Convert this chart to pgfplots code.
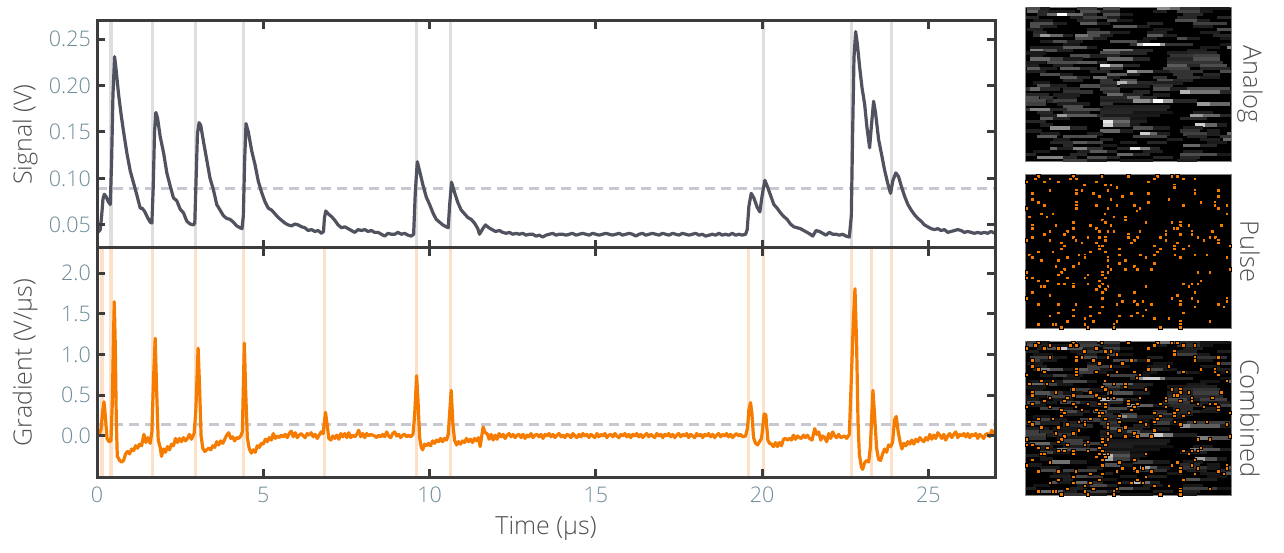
\documentclass[border=0pt]{standalone}
\usepackage{fontspec}
\setmainfont{Open Sans Light}
\usepackage{pgfplots}
\usepackage{pgfplotstable}
\pgfplotsset{compat=1.18}

\definecolor{frame}{HTML}{3C3C3C}
\definecolor{ticklab}{HTML}{6F8C99}
\definecolor{lab}{HTML}{505050}
\definecolor{trace}{HTML}{50525F}
\definecolor{pulse}{HTML}{F57C00}
\definecolor{vgray}{HTML}{DEDEDE}
\definecolor{vorange}{HTML}{FDE0C8}
\definecolor{thr}{HTML}{C8C8D0}

\pgfplotsset{
    trace axis/.style={
        scale only axis, width=898pt, xmin=0, xmax=27,
        axis on top, axis line style={frame,line width=3pt},
        tick style={frame,line width=3pt}, major tick length=8pt,
        tick align=inside, xtick={0,5,...,25},
        every tick label/.append style={font=\fontsize{21.5}{24}\selectfont,text=ticklab},
        /pgf/number format/assume math mode=true,
        yticklabel style={inner sep=0pt,xshift=-6pt,/pgf/number format/fixed,/pgf/number format/fixed zerofill},
        xticklabel style={inner sep=0pt,yshift=-10pt},
        every axis y label/.style={at={(axis description cs:-0.080,0.5)},rotate=90,anchor=center,font=\fontsize{25}{28}\selectfont,text=lab},
        every axis x label/.style={at={(axis description cs:0.5,-0.223)},anchor=center,font=\fontsize{25}{28}\selectfont,text=lab},
    },
    heat axis/.style={
        scale only axis, width=205.6pt, xmin=17, xmax=634, ymin=14, ymax=474, y dir=reverse,
        axis background/.style={fill=black}, axis line style={gray,line width=0.8pt},
        ticks=none, colormap/blackwhite,
        every axis y label/.style={at={(axis description cs:1.091,0.5)},rotate=-90,anchor=center,font=\fontsize{25.5}{28}\selectfont,text=lab},
    },
    vline/.style={line width=3.2pt,forget plot},
    streak/.style={quiver={u=\thisrow{u},v=0,colored=mapped color,every arrow/.append style={line width=3.4pt}},point meta=\thisrow{m}},
    dots/.style={only marks,mark=square*,mark size=1.7pt,mark options={fill=pulse,draw=none}},
}

\pgfplotstableread{
t v
0.00 .042
0.05 .043
0.10 .045
0.14 .060
0.18 .078
0.22 .083
0.28 .080
0.34 .075
0.40 .072
0.44 .120
0.48 .190
0.53 .231
0.58 .215
0.65 .190
0.72 .170
0.80 .150
0.90 .127
1.00 .108
1.10 .095
1.20 .082
1.30 .068
1.36 .068
1.44 .064
1.52 .058
1.60 .053
1.65 .052
1.69 .090
1.73 .150
1.77 .171
1.82 .165
1.90 .145
2.00 .128
2.10 .106
2.20 .092
2.30 .079
2.40 .076
2.50 .067
2.60 .063
2.70 .054
2.80 .051
2.90 .050
2.94 .052
2.98 .100
3.02 .148
3.07 .160
3.12 .157
3.20 .140
3.30 .120
3.40 .100
3.50 .088
3.60 .072
3.70 .066
3.80 .060
3.90 .057
4.00 .056
4.10 .053
4.20 .049
4.30 .047
4.36 .046
4.40 .060
4.44 .120
4.48 .159
4.55 .150
4.65 .130
4.75 .115
4.85 .097
4.95 .085
5.05 .075
5.15 .068
5.25 .066
5.35 .062
5.45 .058
5.55 .055
5.65 .052
5.75 .050
5.85 .049
5.95 .051
6.05 .050
6.15 .048
6.25 .047
6.35 .044
6.45 .045
6.55 .043
6.65 .044
6.75 .041
6.81 .043
6.84 .058
6.88 .065
6.95 .062
7.05 .059
7.15 .055
7.25 .050
7.35 .047
7.45 .048
7.55 .046
7.65 .044
7.75 .042
7.85 .045
7.95 .044
8.05 .045
8.15 .043
8.25 .044
8.35 .042
8.45 .042
8.55 .040
8.65 .038
8.75 .041
8.85 .040
8.95 .040
9.05 .042
9.15 .040
9.25 .041
9.35 .039
9.45 .038
9.52 .040
9.57 .085
9.63 .118
9.70 .108
9.80 .093
9.90 .080
10.00 .072
10.10 .063
10.20 .056
10.30 .053
10.40 .050
10.50 .048
10.56 .047
10.60 .070
10.66 .096
10.75 .085
10.85 .074
10.95 .066
11.05 .062
11.15 .058
11.25 .056
11.35 .052
11.45 .046
11.50 .040
11.60 .046
11.68 .050
11.78 .047
11.88 .045
11.98 .043
12.10 .044
12.20 .042
12.30 .041
12.40 .042
12.50 .040
12.60 .041
12.70 .040
12.80 .041
12.90 .039
13.00 .040
13.10 .040
13.20 .038
13.30 .039
13.40 .037
13.50 .039
13.60 .040
13.70 .041
13.80 .039
13.90 .040
14.00 .040
14.10 .039
14.20 .040
14.30 .041
14.40 .039
14.50 .040
14.60 .041
14.70 .040
14.80 .039
14.90 .041
15.00 .040
15.10 .039
15.20 .040
15.30 .041
15.40 .040
15.50 .039
15.60 .040
15.70 .041
15.80 .039
15.90 .040
16.00 .041
16.10 .040
16.20 .038
16.30 .040
16.40 .041
16.50 .039
16.60 .040
16.70 .041
16.80 .040
16.90 .039
17.00 .041
17.10 .040
17.20 .039
17.30 .041
17.40 .040
17.50 .039
17.60 .041
17.70 .040
17.80 .039
17.90 .040
18.00 .041
18.10 .039
18.20 .040
18.30 .038
18.40 .039
18.50 .040
18.60 .039
18.70 .041
18.80 .039
18.90 .040
19.00 .039
19.10 .041
19.20 .039
19.30 .040
19.40 .039
19.50 .040
19.55 .045
19.60 .070
19.67 .084
19.75 .079
19.85 .069
19.93 .064
20.00 .082
20.08 .098
20.15 .092
20.25 .082
20.35 .072
20.45 .068
20.55 .063
20.65 .059
20.75 .056
20.85 .051
20.95 .048
21.05 .047
21.15 .046
21.25 .044
21.35 .042
21.45 .040
21.52 .038
21.62 .044
21.72 .043
21.82 .041
21.92 .039
22.02 .042
22.12 .040
22.22 .040
22.32 .039
22.42 .040
22.52 .038
22.62 .037
22.68 .060
22.72 .150
22.76 .230
22.81 .258
22.86 .245
22.93 .220
23.00 .198
23.08 .180
23.15 .155
23.23 .133
23.28 .155
23.35 .183
23.41 .170
23.50 .142
23.60 .124
23.68 .109
23.78 .094
23.86 .084
23.93 .098
24.02 .106
24.10 .102
24.18 .092
24.28 .081
24.38 .072
24.48 .066
24.58 .061
24.68 .057
24.78 .054
24.88 .050
24.98 .048
25.08 .046
25.18 .045
25.28 .046
25.38 .044
25.48 .045
25.58 .042
25.68 .043
25.78 .044
25.88 .045
25.98 .044
26.08 .042
26.18 .043
26.28 .042
26.38 .041
26.48 .042
26.58 .041
26.68 .042
26.78 .041
26.88 .043
27.00 .041
}\signal

\pgfplotstableread{
t v
0.00 0.00
0.06 0.01
0.12 0.08
0.17 0.30
0.21 0.42
0.26 0.20
0.30 -0.03
0.36 -0.07
0.42 -0.06
0.46 0.40
0.50 1.30
0.52 1.65
0.55 1.10
0.58 0.20
0.61 -0.25
0.68 -0.30
0.74 -0.32
0.80 -0.30
0.86 -0.22
0.92 -0.19
0.98 -0.22
1.04 -0.16
1.10 -0.18
1.16 -0.12
1.22 -0.15
1.28 -0.10
1.34 -0.12
1.41 0.02
1.47 -0.08
1.53 -0.02
1.60 -0.09
1.65 0.05
1.70 0.70
1.75 1.20
1.79 0.60
1.84 -0.05
1.90 -0.14
1.94 -0.25
2.00 -0.16
2.06 -0.20
2.12 -0.13
2.18 -0.17
2.24 -0.10
2.30 -0.12
2.36 -0.03
2.42 -0.08
2.48 -0.03
2.54 -0.07
2.60 -0.02
2.66 -0.06
2.72 -0.03
2.78 0.02
2.84 -0.04
2.92 0.03
2.97 0.30
3.04 1.08
3.08 0.65
3.13 0.00
3.18 -0.15
3.24 -0.19
3.30 -0.17
3.36 -0.15
3.42 -0.17
3.48 -0.12
3.54 -0.14
3.60 -0.07
3.66 -0.11
3.72 -0.06
3.78 -0.09
3.84 -0.04
3.90 0.01
3.96 0.04
4.02 -0.03
4.08 -0.01
4.14 -0.06
4.20 -0.02
4.26 -0.03
4.32 0.00
4.37 0.05
4.43 1.14
4.47 0.55
4.52 -0.02
4.58 -0.16
4.64 -0.21
4.70 -0.17
4.76 -0.20
4.82 -0.12
4.88 -0.14
4.94 -0.09
5.00 -0.10
5.06 -0.04
5.12 -0.07
5.18 -0.02
5.24 -0.05
5.30 0.03
5.36 -0.03
5.42 0.00
5.48 -0.02
5.54 0.01
5.60 -0.01
5.66 0.02
5.72 -0.02
5.78 0.03
5.84 0.06
5.90 -0.01
5.96 0.04
6.02 -0.02
6.08 0.01
6.14 0.03
6.20 0.00
6.26 -0.02
6.32 0.03
6.38 0.01
6.44 0.04
6.50 -0.01
6.56 0.02
6.62 -0.03
6.68 0.01
6.74 0.05
6.80 0.03
6.87 0.29
6.92 0.14
6.97 -0.03
7.03 -0.05
7.09 0.00
7.15 -0.03
7.21 0.01
7.27 -0.04
7.33 0.03
7.39 -0.01
7.45 0.03
7.51 -0.02
7.57 0.04
7.63 -0.02
7.69 0.01
7.75 -0.01
7.81 0.02
7.87 0.07
7.93 -0.01
7.99 0.03
8.05 -0.02
8.11 0.03
8.17 0.00
8.23 0.02
8.29 0.01
8.35 0.00
8.41 -0.02
8.47 0.01
8.53 -0.01
8.59 0.02
8.65 -0.01
8.71 0.05
8.77 0.00
8.83 -0.02
8.89 0.03
8.95 0.05
9.01 0.00
9.07 0.02
9.13 -0.02
9.19 0.01
9.25 0.02
9.31 -0.01
9.37 0.01
9.43 -0.01
9.50 0.02
9.55 0.25
9.61 0.74
9.65 0.45
9.70 -0.02
9.75 -0.14
9.79 -0.17
9.85 -0.10
9.91 -0.12
9.97 -0.09
10.03 -0.12
10.09 -0.06
10.15 -0.09
10.21 -0.05
10.27 -0.07
10.33 -0.03
10.39 -0.07
10.45 -0.03
10.51 -0.05
10.56 0.02
10.65 0.56
10.70 0.15
10.75 -0.05
10.81 -0.11
10.87 -0.07
10.93 -0.10
10.99 -0.06
11.05 -0.08
11.11 -0.03
11.17 -0.07
11.23 -0.04
11.29 -0.08
11.35 -0.03
11.41 -0.06
11.47 -0.02
11.52 -0.13
11.61 0.11
11.67 0.04
11.73 0.03
11.79 -0.04
11.85 0.02
11.91 -0.05
11.97 0.01
12.03 -0.04
12.09 0.03
12.15 -0.01
12.21 0.02
12.27 -0.03
12.33 0.01
12.39 0.03
12.45 -0.01
12.51 0.02
12.57 -0.02
12.63 0.01
12.69 0.02
12.75 -0.02
12.81 0.02
12.87 -0.03
12.93 0.01
12.99 -0.01
13.05 0.03
13.11 -0.02
13.17 0.01
13.23 0.02
13.29 -0.01
13.35 0.02
13.41 -0.03
13.47 0.02
13.53 0.00
13.59 0.03
13.65 -0.01
13.71 0.02
13.77 -0.02
13.83 0.01
13.89 0.03
13.95 -0.01
14.01 0.01
14.07 -0.02
14.13 0.02
14.19 0.01
14.25 -0.02
14.31 0.03
14.37 0.00
14.43 -0.02
14.49 0.02
14.55 -0.01
14.61 0.03
14.67 0.00
14.73 0.02
14.79 -0.02
14.85 0.02
14.91 0.00
14.97 -0.02
15.03 0.03
15.09 -0.01
15.15 0.02
15.21 0.00
15.27 0.03
15.33 -0.02
15.39 0.01
15.45 0.02
15.51 -0.01
15.57 0.03
15.63 0.00
15.69 -0.02
15.75 0.02
15.81 0.00
15.87 0.03
15.93 -0.01
15.99 0.02
16.05 -0.02
16.11 0.02
16.17 0.00
16.23 0.03
16.29 -0.01
16.35 0.02
16.41 -0.02
16.47 0.01
16.53 0.03
16.59 -0.01
16.65 0.02
16.71 0.00
16.77 -0.02
16.83 0.03
16.89 0.00
16.95 0.02
17.01 -0.02
17.07 0.02
17.13 0.00
17.19 0.03
17.25 -0.01
17.31 0.02
17.37 -0.02
17.43 0.01
17.49 0.03
17.55 -0.01
17.61 0.02
17.67 0.00
17.73 0.03
17.79 -0.02
17.85 0.02
17.91 0.00
17.97 -0.02
18.03 0.03
18.09 0.00
18.15 0.02
18.21 -0.02
18.27 0.02
18.33 0.00
18.39 0.03
18.45 -0.01
18.51 0.02
18.57 -0.02
18.63 0.01
18.69 0.03
18.75 -0.01
18.81 0.02
18.87 0.00
18.93 0.03
18.99 -0.01
19.05 0.02
19.11 -0.02
19.17 0.01
19.23 0.03
19.29 0.00
19.35 0.02
19.41 -0.01
19.50 0.00
19.56 0.10
19.60 0.32
19.65 0.41
19.69 0.28
19.74 -0.02
19.80 -0.09
19.86 -0.11
19.92 -0.07
19.98 -0.03
20.06 0.27
20.11 0.26
20.17 -0.05
20.22 -0.09
20.28 -0.10
20.34 -0.13
20.40 -0.08
20.46 -0.13
20.52 -0.08
20.58 -0.12
20.64 -0.04
20.70 -0.03
20.76 -0.05
20.82 -0.03
20.88 -0.05
20.94 0.01
21.00 -0.04
21.06 0.00
21.12 -0.02
21.18 -0.03
21.24 0.01
21.30 -0.02
21.36 0.01
21.42 -0.03
21.50 -0.05
21.58 0.09
21.64 0.02
21.70 0.05
21.76 -0.05
21.82 0.00
21.88 -0.02
21.94 -0.07
22.00 0.03
22.06 -0.03
22.12 0.05
22.18 0.00
22.24 -0.02
22.30 0.02
22.36 -0.02
22.42 -0.01
22.48 0.00
22.54 -0.03
22.62 0.02
22.68 0.70
22.74 1.40
22.79 1.81
22.84 1.10
22.88 0.20
22.92 -0.22
22.98 -0.38
23.02 -0.41
23.08 -0.33
23.14 -0.30
23.20 -0.32
23.25 -0.15
23.33 0.56
23.38 0.25
23.44 -0.15
23.50 -0.29
23.56 -0.30
23.62 -0.22
23.68 -0.16
23.74 -0.20
23.80 -0.11
23.86 -0.13
23.92 -0.08
23.98 0.20
24.03 0.24
24.09 0.05
24.15 -0.08
24.20 -0.16
24.26 -0.09
24.32 -0.12
24.38 -0.07
24.44 -0.10
24.50 -0.05
24.56 -0.10
24.62 -0.04
24.68 -0.07
24.74 -0.02
24.80 -0.05
24.86 -0.07
24.92 -0.02
24.98 -0.05
25.04 0.02
25.10 -0.04
25.16 0.01
25.22 -0.03
25.28 0.04
25.34 0.01
25.40 -0.03
25.46 0.02
25.52 -0.05
25.58 0.00
25.64 0.03
25.70 -0.02
25.76 0.02
25.82 0.05
25.88 -0.02
25.94 0.02
26.00 0.00
26.06 0.03
26.12 -0.01
26.18 0.03
26.24 -0.02
26.30 0.02
26.36 0.00
26.42 0.03
26.48 -0.03
26.54 0.02
26.60 0.00
26.66 -0.03
26.72 0.02
26.78 0.03
26.84 -0.01
26.90 0.07
27.00 0.01
}\gradient

% analog streaks: start, row, length, brightness (zoom-crop coordinates)
\pgfplotstableread{
x y u m
20 26 40 .3
60 26 30 .12
170 26 60 .25
250 26 50 .3
410 26 40 .55
450 26 30 .4
480 26 60 .2
540 26 90 .1
20 35 35 .4
55 35 30 .15
85 35 80 .1
180 35 60 .3
240 35 60 .15
400 35 40 .12
470 35 70 .25
540 35 40 .1
50 44 30 .15
80 44 30 .4
110 44 30 1
140 44 50 .4
190 44 40 .15
250 44 50 .3
300 44 40 .1
490 44 60 .15
17 53 40 .15
150 53 40 .12
190 53 70 .25
260 53 40 .12
470 53 60 .15
590 53 44 .15
40 62 60 .1
170 62 60 .15
260 62 30 .3
290 62 50 .1
465 62 65 .3
530 62 40 .12
30 71 70 .3
100 71 40 .12
180 71 50 .35
230 71 40 .12
380 71 50 .15
520 71 100 .25
30 79 30 .3
60 79 50 .12
280 79 70 .35
350 79 40 .12
520 79 60 .12
20 88 50 .12
200 88 40 .12
400 88 60 .1
590 88 44 .3
40 97 40 .15
200 97 70 .3
270 97 60 .12
380 97 60 .12
540 97 60 .12
40 106 20 .2
60 106 30 .6
90 106 40 .4
130 106 30 .12
165 106 40 .45
205 106 35 .3
240 106 40 .12
380 106 50 .35
430 106 40 .12
580 106 54 .15
165 115 55 .3
220 115 40 .12
370 115 40 .1
470 115 30 .3
500 115 40 .12
600 115 34 .1
60 124 40 .12
100 124 40 .3
140 124 50 .12
270 124 80 .3
350 124 40 .1
130 133 50 .1
330 133 20 .2
350 133 20 .7
370 133 50 1
420 133 15 .6
435 133 85 .2
600 133 34 .1
30 142 100 .12
130 142 70 .35
200 142 30 .12
540 142 60 .1
620 142 14 .5
30 151 40 .5
70 151 40 .3
110 151 50 .12
250 151 90 .45
340 151 60 .15
500 151 60 .12
17 159 60 .1
240 159 60 .3
300 159 80 .15
440 159 60 .12
500 159 90 .15
30 168 40 .1
150 168 60 .3
210 168 50 .12
260 168 40 .15
450 168 70 .2
520 168 80 .25
30 177 60 .4
90 177 40 .25
130 177 60 .1
260 177 80 .4
340 177 50 .15
440 177 80 .15
520 177 80 .3
17 186 60 .1
80 186 90 .3
170 186 60 .35
230 186 30 .12
440 186 60 .2
500 186 110 .2
17 195 40 .12
100 195 60 .12
240 195 30 .9
270 195 40 .5
310 195 50 .15
440 195 60 .35
500 195 40 .15
540 195 80 .3
20 204 40 .35
60 204 50 .12
120 204 60 .35
180 204 50 .15
240 204 70 .2
430 204 80 .25
540 204 90 .15
17 213 60 .12
210 213 60 .15
320 213 30 .7
350 213 50 .45
400 213 50 .12
450 213 100 .2
600 213 34 .3
60 222 60 .3
120 222 40 .12
260 222 60 .35
320 222 40 .12
460 222 60 .2
550 222 50 .15
120 231 50 .35
170 231 40 .15
220 231 40 .4
260 231 40 .12
400 231 40 .2
470 231 70 .2
540 231 60 .12
130 240 60 .15
240 240 40 .2
300 240 50 .3
410 240 50 .3
460 240 60 .15
40 248 50 .1
240 248 50 .2
290 248 30 .7
320 248 30 .4
350 248 50 .15
400 248 90 .12
50 257 40 .3
90 257 50 .12
180 257 60 .3
240 257 50 .15
300 257 90 .12
400 257 60 .2
17 266 13 .2
30 266 30 .4
60 266 60 .15
130 266 50 .15
240 266 60 .25
400 266 50 .3
450 266 50 .12
500 266 130 .3
130 275 90 .2
250 275 50 .2
340 275 50 .15
480 275 30 .7
510 275 90 .45
600 275 34 .15
17 284 70 .15
100 284 80 .12
260 284 50 .4
310 284 60 .15
400 284 50 .12
17 293 40 .3
60 293 40 .2
110 293 60 .12
240 293 80 .15
320 293 40 .4
360 293 50 .15
17 302 60 .3
80 302 20 .15
100 302 70 .25
240 302 100 .12
340 302 50 .55
390 302 10 .4
400 302 30 1
430 302 30 .6
460 302 70 .15
17 311 60 .25
110 311 100 .12
240 311 40 .2
530 311 40 .6
570 311 60 .4
130 320 60 .3
250 320 200 .12
17 328 20 .2
30 328 60 .5
90 328 50 .15
140 328 100 .3
240 328 200 .14
50 337 50 .15
130 337 80 .15
240 337 100 .15
340 337 120 .08
520 337 60 .12
60 346 50 .12
110 346 30 .6
140 346 90 .35
230 346 20 .15
250 346 170 .1
510 346 40 .6
550 346 50 .4
600 346 34 .15
60 355 40 .35
100 355 50 .12
240 355 90 .22
330 355 50 .08
480 355 80 .15
17 364 60 .15
250 364 30 .9
280 364 50 .4
330 364 50 .12
60 373 40 .12
250 373 30 .8
280 373 50 .3
330 373 30 .1
525 373 30 .8
555 373 35 .4
590 373 30 .12
90 382 60 .55
150 382 50 .15
340 382 60 .3
400 382 50 .12
490 382 60 .12
17 391 50 .12
240 391 60 .4
300 391 40 .12
480 391 60 .2
560 391 40 .12
60 400 60 .12
200 400 50 .12
360 400 30 .8
390 400 20 .4
410 400 40 .12
490 400 70 .25
560 400 40 .12
620 400 14 .4
50 408 60 .35
130 408 100 .3
340 408 100 .25
500 408 60 .15
600 408 34 .2
100 417 50 .1
240 417 40 .15
440 417 50 .12
540 417 60 .12
610 417 24 .4
90 426 70 .15
160 426 40 .35
200 426 50 .25
300 426 50 .12
380 426 60 .15
560 426 60 .1
130 435 30 .15
240 435 50 .1
490 435 50 .4
540 435 50 .15
90 444 20 .4
110 444 50 .12
160 444 40 .5
200 444 50 .2
290 444 40 .15
330 444 30 .9
360 444 30 .5
390 444 30 .15
40 453 50 .1
170 453 40 .12
210 453 50 .35
260 453 30 .15
370 453 60 .12
490 453 60 .12
17 462 30 .15
150 462 50 .15
290 462 50 .4
340 462 50 .15
480 462 110 .3
590 462 44 .1
50 471 80 .5
130 471 40 .15
200 471 60 .3
260 471 40 .15
400 471 60 .15
480 471 60 .15
130 480 70 .25
200 480 60 .1
300 480 100 .1
470 480 60 .12
}\streaks

% pulse cells, same crop coordinates
\pgfplotstableread{
x y
55 18
160 18
245 18
325 18
412 18
455 18
472 18
45 26
150 26
168 26
89 26
403 26
490 26
525 26
20 35
72 35
115 35
228 35
385 35
193 44
255 44
272 44
463 44
290 52
463 52
89 61
168 61
185 61
263 61
525 61
595 61
37 70
168 70
220 70
333 70
385 70
525 70
237 79
307 79
595 79
37 88
272 88
446 88
54 97
168 97
385 97
542 97
585 97
72 105
168 105
228 105
290 105
342 105
490 105
585 105
621 105
20 114
168 114
263 114
359 114
595 114
350 122
63 131
98 131
254 131
621 131
28 140
80 140
281 140
316 140
246 149
316 149
159 157
255 157
377 157
455 157
481 157
37 166
107 166
211 166
272 166
481 166
507 166
604 166
37 175
159 175
228 175
463 175
472 175
89 183
141 183
237 183
263 183
281 183
359 183
437 183
516 183
577 183
72 192
133 192
324 192
437 192
481 192
516 192
37 201
159 201
203 201
237 201
255 201
324 201
351 201
420 201
533 201
569 201
586 201
20 210
89 210
167 210
255 210
342 210
437 210
551 210
595 210
124 218
185 218
228 218
333 218
472 218
595 218
133 227
238 227
246 227
403 227
463 227
507 227
630 227
124 236
238 236
298 236
420 236
463 236
490 236
54 245
98 245
211 245
255 245
411 245
28 254
176 254
194 254
298 254
360 254
403 254
464 254
525 254
560 254
37 262
141 262
194 262
263 262
377 262
481 262
621 262
63 271
115 271
263 271
316 271
176 280
298 280
403 280
107 289
159 289
263 289
342 289
133 297
272 297
316 297
351 297
394 297
630 297
20 306
124 306
246 306
263 306
534 306
569 306
115 314
203 314
246 314
20 323
37 323
141 323
194 323
255 323
54 332
81 332
237 332
542 332
115 341
133 341
159 341
203 341
246 341
490 341
516 341
534 341
63 349
72 349
159 349
238 349
263 349
377 349
507 349
228 358
255 358
37 367
246 367
342 367
525 367
89 375
298 375
472 375
20 384
246 384
455 384
516 384
621 384
307 393
342 393
368 393
481 393
534 393
621 393
54 402
115 402
167 402
290 402
351 402
394 402
481 402
595 402
211 410
246 410
525 410
612 410
159 419
377 419
115 428
238 428
351 428
490 428
89 437
159 437
211 437
298 437
333 437
368 437
194 445
403 445
446 445
141 454
220 454
290 454
481 454
569 454
54 462
98 462
107 462
194 462
281 462
481 462
124 471
203 471
281 471
420 471
481 471
}\pulses

\begin{document}
\begin{tikzpicture}[x=1pt,y=1pt]
\path[use as bounding box] (0,0) rectangle (1284,552);

\begin{axis}[trace axis, at={(97pt,304pt)}, anchor=south west, height=227pt,
    ymin=0.0252, ymax=0.2694, ytick={0.05,0.10,0.15,0.20,0.25},
    yticklabel style={/pgf/number format/precision=2}, xticklabels={},
    ylabel={Signal (V)}]
\pgfplotsinvokeforeach{0.42,1.67,2.95,4.40,9.60,10.63,20.03,22.68,23.89}{
  \addplot[vline,vgray] coordinates {(#1,0)(#1,1)};
}
\addplot[thr,line width=2.8pt,dash pattern=on 10pt off 6pt,forget plot] coordinates {(0,0.0888)(27,0.0888)};
\addplot[trace,line width=3.2pt,line join=round] table[x=t,y=v] {\signal};
\end{axis}

\begin{axis}[trace axis, at={(97pt,75pt)}, anchor=south west, height=229pt,
    ymin=-0.504, ymax=2.31, ytick={0,0.5,1,1.5,2},
    yticklabel style={/pgf/number format/precision=1},
    xlabel={Time (µs)}, ylabel={Gradient (V/µs)}]
\pgfplotsinvokeforeach{0.15,0.42,1.67,2.95,4.40,6.83,9.60,10.63,19.59,20.03,22.68,23.29,23.89}{
  \addplot[vline,vorange] coordinates {(#1,-1)(#1,3)};
}
\addplot[thr,line width=2.8pt,dash pattern=on 10pt off 6pt,forget plot] coordinates {(0,0.144)(27,0.144)};
\addplot[pulse,line width=3.2pt,line join=round] table[x=t,y=v] {\gradient};
\end{axis}

\begin{axis}[heat axis, at={(1025.7pt,390.7pt)}, anchor=south west, height=154pt,
    point meta min=0, point meta max=1, ylabel={Analog}]
\addplot[streak] table[x=x,y expr=\thisrow{y}-8] {\streaks};
\end{axis}

\begin{axis}[heat axis, at={(1025.7pt,224pt)}, anchor=south west, height=153.3pt, ylabel={Pulse}]
\addplot[dots] table[x=x,y=y] {\pulses};
\end{axis}

\begin{axis}[heat axis, at={(1025.7pt,56.7pt)}, anchor=south west, height=154pt,
    point meta min=0, point meta max=1.25, ylabel={Combined}]
\addplot[streak] table[x=x,y expr=\thisrow{y}-8] {\streaks};
\addplot[dots] table[x=x,y=y] {\pulses};
\end{axis}
\end{tikzpicture}
\end{document}
